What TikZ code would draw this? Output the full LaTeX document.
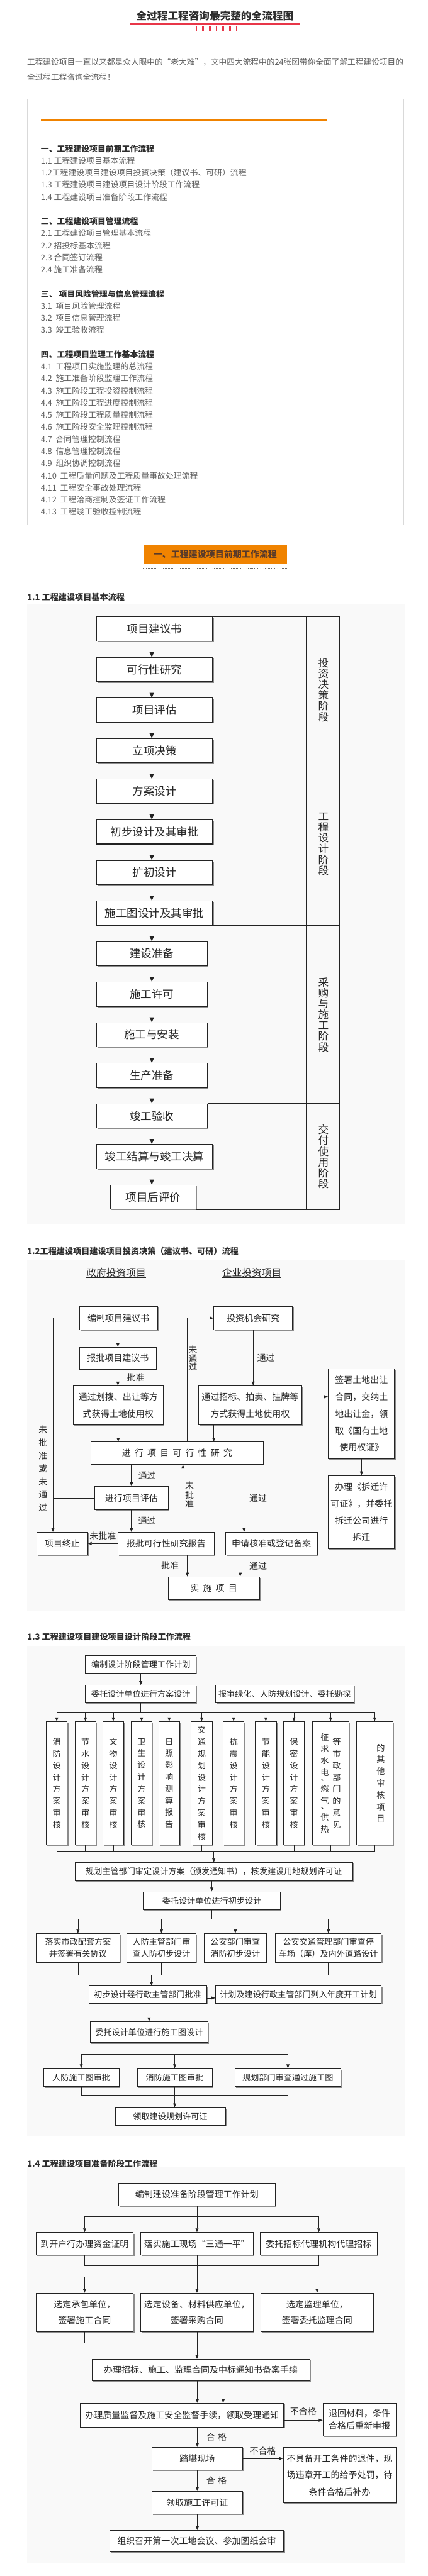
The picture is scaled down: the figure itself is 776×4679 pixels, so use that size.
\documentclass[tikz,border=0pt]{standalone}
\usepackage{fontspec}
\setmainfont{Noto Sans CJK SC}
\usepackage{xcolor}
\usepackage{tikz}
\usetikzlibrary{arrows.meta, positioning, shadows}
\definecolor{tred}{RGB}{232,54,72}
\definecolor{torange}{RGB}{240,131,0}
\definecolor{tgray}{RGB}{95,95,95}
\definecolor{tdark}{RGB}{45,45,45}
\definecolor{tbrown}{RGB}{88,58,42}
\definecolor{tbg}{RGB}{249,249,249}
\definecolor{tline}{RGB}{35,35,35}
\newcommand\fsz[2]{\fontsize{#1}{#2}\selectfont}
\newcommand\chgap{\kern7pt}

\begin{document}
\begin{tikzpicture}[
  x=1pt, y=-1pt,
  sz/.style 2 args={minimum width=#1pt,minimum height=#2pt},
  fbox/.style={draw=tline, line width=0.9pt, fill=white, inner sep=0pt,
               align=center, text=black!85,
               drop shadow={shadow xshift=2pt,shadow yshift=-2pt,fill=black!45,opacity=1}},
  bxl/.style={fbox, line width=1.2pt, font=\fsz{20}{24}},
  bxm/.style={fbox, font=\fsz{16}{30.5}},
  bxs/.style={fbox, font=\fsz{15}{21.5}},
  hd/.style={anchor=west, inner sep=0pt, text=tdark, font=\fsz{15}{18}\bfseries},
  stage/.style={inner sep=0pt, align=center, text=black!85, font=\fsz{19}{19.6}},
  lbl/.style={inner sep=0pt, align=center, text=black!85, font=\fsz{16}{16.5}},
  arrB/.style={-{Triangle[length=9pt,width=8pt]}, line width=1.2pt, tline},
  arr/.style={-{Triangle[length=7pt,width=5.5pt]}, line width=0.8pt, tline},
  ln/.style={line width=0.8pt, tline},
  lnB/.style={line width=1.2pt, tline},
  bg/.style={fill=tbg}
]
\useasboundingbox (0,0) rectangle (776,4679);

  % Title and intro
  \node[inner sep=0pt, text=tdark, font=\fsz{19}{22}\bfseries] (title) at (390,29)
    {全过程工程咨询最完整的全流程图};
  \draw[tred, line width=2pt] (237,43) -- (545,43);
  \draw[tred, line width=9pt, dash pattern=on 3pt off 9.2pt] (355,52.5) -- (431.5,52.5);
  \node[anchor=west, inner sep=0pt, text=tgray, font=\fsz{14.5}{18}] (intro1) at (49,113)
    {工程建设项目一直以来都是众人眼中的“老大难”，文中四大流程中的24张图带你全面了解工程建设项目的};
  \node[anchor=west, inner sep=0pt, text=tgray, font=\fsz{14.5}{18}] (intro2) at (49,140)
    {全过程工程咨询全流程！};

  % Contents box
  \draw[draw=black!15, fill=white] (49,179) rectangle (732,953);
  \fill[torange] (74,216) rectangle (594,221);
  \node[anchor=north west, inner sep=0pt, align=left, text=tgray, font=\fsz{14.7}{22}] (toc) at (74,262.5) {%
    {\bfseries\color{tdark}一、工程建设项目前期工作流程}\\
    1.1 工程建设项目基本流程\\
    1.2工程建设项目建设项目投资决策（建议书、可研）流程\\
    1.3 工程建设项目建设项目设计阶段工作流程\\
    1.4 工程建设项目准备阶段工作流程\\[22pt]
    {\bfseries\color{tdark}二、工程建设项目管理流程}\\
    2.1 工程建设项目管理基本流程\\
    2.2 招投标基本流程\\
    2.3 合同签订流程\\
    2.4 施工准备流程\\[22pt]
    {\bfseries\color{tdark}三、\ 项目风险管理与信息管理流程}\\
    3.1\ \ 项目风险管理流程\\
    3.2\ \ 项目信息管理流程\\
    3.3\ \ 竣工验收流程\\[22pt]
    {\bfseries\color{tdark}四、工程项目监理工作基本流程}\\
    4.1\ \ 工程项目实施监理的总流程\\
    4.2\ \ 施工准备阶段监理工作流程\\
    4.3\ \ 施工阶段工程投资控制流程\\
    4.4\ \ 施工阶段工程进度控制流程\\
    4.5\ \ 施工阶段工程质量控制流程\\
    4.6\ \ 施工阶段安全监理控制流程\\
    4.7\ \ 合同管理控制流程\\
    4.8\ \ 信息管理控制流程\\
    4.9\ \ 组织协调控制流程\\
    4.10\ \ 工程质量问题及工程质量事故处理流程\\
    4.11\ \ 工程安全事故处理流程\\
    4.12\ \ 工程洽商控制及签证工作流程\\
    4.13\ \ 工程竣工验收控制流程};

  % Section banner
  \node[fill=torange, sz={261}{36}, inner sep=0pt, text=tbrown, font=\fsz{16}{18}\bfseries]
    (sec1) at (390.5,1007) {一、工程建设项目前期工作流程};
  \draw[black!60, line width=0.8pt, dotted] ([yshift=-7pt]sec1.south west) -- ([yshift=-7pt]sec1.south east);

  % 1.1 basic flow
  \node[hd] (h11) at (49,1085) {1.1 工程建设项目基本流程};
  \fill[bg] (49,1097) rectangle (735,2223);
  \node[bxl, sz={211}{44}] (f1) at (280.5,1142.5) {项目建议书};
  \node[bxl, sz={211}{44}] (f2) at (280.5,1216.2) {可行性研究};
  \node[bxl, sz={211}{44}] (f3) at (280.5,1289.9) {项目评估};
  \node[bxl, sz={211}{44}] (f4) at (280.5,1363.6) {立项决策};
  \node[bxl, sz={211}{44}] (f5) at (280.5,1437.3) {方案设计};
  \node[bxl, sz={211}{44}] (f6) at (280.5,1511) {初步设计及其审批};
  \node[bxl, sz={211}{44}] (f7) at (280.5,1584.7) {扩初设计};
  \node[bxl, sz={211}{44}] (f8) at (280.5,1658.4) {施工图设计及其审批};
  \node[bxl, sz={201}{44}] (f9) at (275.5,1732.1) {建设准备};
  \node[bxl, sz={201}{44}] (f10) at (275.5,1805.8) {施工许可};
  \node[bxl, sz={201}{44}] (f11) at (275.5,1879.5) {施工与安装};
  \node[bxl, sz={201}{44}] (f12) at (275.5,1953.2) {生产准备};
  \node[bxl, sz={201}{44}] (f13) at (275.5,2026.9) {竣工验收};
  \node[bxl, sz={211}{44}] (f14) at (280.5,2100.6) {竣工结算与竣工决算};
  \node[bxl, sz={156}{44}] (f15) at (278,2174.3) {项目后评价};

  \draw[arrB] (f1.south -| f9) -- (f2.north -| f9);
  \draw[arrB] (f2.south -| f9) -- (f3.north -| f9);
  \draw[arrB] (f3.south -| f9) -- (f4.north -| f9);
  \draw[arrB] (f4.south -| f9) -- (f5.north -| f9);
  \draw[arrB] (f5.south -| f9) -- (f6.north -| f9);
  \draw[arrB] (f6.south -| f9) -- (f7.north -| f9);
  \draw[arrB] (f7.south -| f9) -- (f8.north -| f9);
  \draw[arrB] (f8.south -| f9) -- (f9.north);
  \draw[arrB] (f9.south) -- (f10.north);
  \draw[arrB] (f10.south) -- (f11.north);
  \draw[arrB] (f11.south) -- (f12.north);
  \draw[arrB] (f12.south) -- (f13.north);
  \draw[arrB] (f13.south) -- (f14.north -| f9);
  \draw[arrB] (f14.south -| f9) -- (f15.north -| f9);

  % stage column
  \coordinate (ca) at (556,0);
  \coordinate (cb) at (616,0);
  \draw[lnB] (f1.north east) -- (f1.north east -| cb) -- (f15.south east -| cb) -- (f15.south east);
  \draw[lnB] (f1.north east -| ca) -- (f15.south east -| ca);
  \draw[lnB] (f4.south east) -- (f4.south east -| cb);
  \draw[lnB] (f8.south east) -- (f8.south east -| cb);
  \draw[lnB] (f13.north east) -- (f13.north east -| cb);
  \node[stage] (st1) at (587,1253) {投\\资\\决\\策\\阶\\段};
  \node[stage] (st2) at (587,1533) {工\\程\\设\\计\\阶\\段};
  \node[stage] (st3) at (587,1843) {采\\购\\与\\施\\工\\阶\\段};
  \node[stage] (st4) at (587,2101) {交\\付\\使\\用\\阶\\段};

  % 1.2 investment decision
  \node[hd] (h12) at (49,2273) {1.2工程建设项目建设项目投资决策（建议书、可研）流程};
  \fill[bg] (49,2288) rectangle (735,2927);
  \node[lbl, font=\fsz{18}{20}] (gov) at (211,2312) {\underline{政府投资项目}};
  \node[lbl, font=\fsz{18}{20}] (ent) at (457,2312) {\underline{企业投资项目}};
  \node[bxm, sz={142}{42}] (v1) at (215,2394) {编制项目建议书};
  \node[bxm, sz={140}{40}] (v2) at (214,2467) {报批项目建议书};
  \node[bxm, sz={163}{71}] (v3) at (214.5,2552.5) {通过划拨、出让等方\\式获得土地使用权};
  \node[bxm, sz={143}{42}] (c1) at (459.5,2394) {投资机会研究};
  \node[bxm, sz={188}{71}] (c2) at (454,2552.5) {通过招标、拍卖、挂牌等\\方式获得土地使用权};
  \node[bxm, sz={120}{164}] (c3) at (656,2568) {签署土地出让\\合同，交纳土\\地出让金，领\\取《国有土地\\使用权证》};
  \node[bxm, sz={313}{41}] (fs) at (321.5,2639.5)
    {进\chgap 行\chgap 项\chgap 目\chgap 可\chgap 行\chgap 性\chgap 研\chgap 究};
  \node[bxm, sz={133}{42}] (ev) at (238.5,2721) {进行项目评估};
  \node[bxm, sz={120}{133}] (c4) at (656,2746.5) {办理《拆迁许\\可证》，并委托\\拆迁公司进行\\拆迁};
  \node[bxm, sz={92}{41}] (stop) at (113,2803.5) {项目终止};
  \node[bxm, sz={175}{41}] (rp) at (301.5,2803.5) {报批可行性研究报告};
  \node[bxm, sz={167}{41}] (reg) at (492.5,2803.5) {申请核准或登记备案};
  \node[bxm, sz={166}{41}] (run) at (388,2884.5) {实\chgap 施\chgap 项\chgap 目};

  \coordinate (lx) at (96,0);
  \draw[arr] (v1.south -| v2.north) -- (v2.north);
  \draw[arr] (v2.south) -- (v3.north -| v2.south) node[lbl, midway, right=16pt] (l1) {批准};
  \draw[arr] (v3.south) -- (v3.south |- fs.north);
  \draw[arr] (c1.south) -- (c1.south |- c2.north) node[lbl, midway, right=7pt] (l2) {通过};
  \draw[arr] ([yshift=15.5pt]c2.east) -- ([yshift=15.5pt]c2.east -| c3.west);
  \draw[arr] ([xshift=-66pt]c2.south) -- ([xshift=-66pt]c2.south |- fs.north);
  \draw[arr] ([xshift=18.5pt]fs.north) |- (c1.west);
  \node[lbl, font=\fsz{16}{15.5}] (l3) at (350,2467) {未\\通\\过};
  \draw[arr] (v1.west) -| ([xshift=-17pt]stop.north);
  \draw[ln] (fs.west) -- (fs.west -| lx);
  \draw[ln] (ev.west) -- (ev.west -| lx);
  \node[lbl, font=\fsz{16}{23.5}] (l4) at (78,2667.5) {未\\批\\准\\或\\未\\通\\过};
  \draw[arr] (fs.south -| ev.north) -- (ev.north) node[lbl, midway, right=12pt] (l5) {通过};
  \draw[arr] (ev.south) -- (ev.south |- rp.north) node[lbl, midway, right=12pt] (l6) {通过};
  \draw[arr] (rp.west) -- (stop.east) node[lbl, midway, above=6pt] (l7) {未批准};
  \draw[arr] ([xshift=30.5pt]rp.north) -- ([xshift=30.5pt]rp.north |- fs.south);
  \node[lbl, font=\fsz{16}{17}] (l8) at (344,2715) {未\\批\\准};
  \draw[arr] ([xshift=-49.5pt]reg.north |- fs.south) -- ([xshift=-49.5pt]reg.north)
    node[lbl, midway, right=9pt] (l9) {通过};
  \draw[arr] (c3.south) -- (c3.south |- c4.north);
  \draw[arr] ([xshift=-48pt]run.north |- rp.south) -- ([xshift=-48pt]run.north)
    node[lbl, midway, left=15pt] (l10) {批准};
  \draw[arr] ([xshift=48pt]run.north |- reg.south) -- ([xshift=48pt]run.north)
    node[lbl, midway, right=16pt] (l11) {通过};

  % 1.3 design stage
  \node[hd] (h13) at (49,2973) {1.3 工程建设项目建设项目设计阶段工作流程};
  \fill[bg] (49,2990) rectangle (735,3880);
  \node[bxs, sz={201}{32}] (d1) at (255.5,3023) {编制设计阶段管理工作计划};
  \node[bxs, sz={201}{32}] (d2) at (255.5,3077) {委托设计单位进行方案设计};
  \node[bxs, sz={251}{32}] (d3) at (516.5,3077) {报审绿化、人防规划设计、委托勘探};
  \node[bxs, sz={38}{224}] (r1) at (103,3239) {消\\防\\设\\计\\方\\案\\审\\核};
  \node[bxs, sz={38}{224}] (r2) at (155,3239) {节\\水\\设\\计\\方\\案\\审\\核};
  \node[bxs, sz={38}{224}] (r3) at (205.5,3239) {文\\物\\设\\计\\方\\案\\审\\核};
  \node[bxs, sz={38}{224}] (r4) at (257,3239) {卫\\生\\设\\计\\方\\案\\审\\核};
  \node[bxs, sz={38}{224}] (r5) at (307,3239) {日\\照\\影\\响\\测\\算\\报\\告};
  \node[bxs, sz={38}{224}] (r6) at (366,3239) {交\\通\\规\\划\\设\\计\\方\\案\\审\\核};
  \node[bxs, sz={38}{224}] (r7) at (424,3239) {抗\\震\\设\\计\\方\\案\\审\\核};
  \node[bxs, sz={38}{224}] (r8) at (482.5,3239) {节\\能\\设\\计\\方\\案\\审\\核};
  \node[bxs, sz={38}{224}] (r9) at (533.5,3239) {保\\密\\设\\计\\方\\案\\审\\核};
  \node[bxs, sz={66}{224}] (r10) at (600,3239) {};
  \node[lbl, font=\fsz{15}{21.5}] (r10a) at (589.5,3239)
    {征\\求\\水\\电\\[-13pt]、\\燃\\气\\[-13pt]、\\供\\热};
  \node[lbl, font=\fsz{15}{21.5}] (r10b) at (611,3239) {等\\市\\政\\部\\门\\的\\意\\见};
  \node[bxs, sz={66}{224}] (r11) at (680,3239) {};
  \node[lbl, font=\fsz{15}{21.5}] (r11a) at (691,3239) {的\\其\\他\\审\\核\\项\\目};
  \node[bxs, sz={504}{33}] (pl) at (388,3399.5)
    {规划主管部门审定设计方案（颁发通知书），核发建设用地规划许可证};
  \node[bxs, sz={249}{33}] (ds) at (384.5,3452.5) {委托设计单位进行初步设计};
  \node[bxs, sz={151}{52}] (m1) at (141.5,3538) {落实市政配套方案\\并签署有关协议};
  \node[bxs, sz={126}{52}] (m2) at (293,3538) {人防主管部门审\\查人防初步设计};
  \node[bxs, sz={114}{52}] (m3) at (427,3538) {公安部门审查\\消防初步设计};
  \node[bxs, sz={192}{52}] (m4) at (596,3538) {公安交通管理部门审查停\\车场（库）及内外道路设计};
  \node[bxs, sz={214}{32}] (ap) at (268,3623) {初步设计经行政主管部门批准};
  \node[bxs, sz={301}{32}] (yr) at (541.5,3623) {计划及建设行政主管部门列入年度开工计划};
  \node[bxs, sz={213}{38}] (cd) at (270.5,3691) {委托设计单位进行施工图设计};
  \node[bxs, sz={137}{33}] (w1) at (147.5,3773.5) {人防施工图审批};
  \node[bxs, sz={136}{33}] (w2) at (317,3773.5) {消防施工图审批};
  \node[bxs, sz={193}{33}] (w3) at (522.5,3773.5) {规划部门审查通过施工图};
  \node[bxs, sz={200}{32}] (lic) at (309,3844) {领取建设规划许可证};

  \draw[arr] (d1.south) -- (d2.north);
  \draw[ln] (d2.east) -- (d3.west);
  \draw[ln] (d2.south) -- ++(0,16) coordinate (bt);
  \draw[ln] (r1.north |- bt) -- (r11.north |- bt);
  \draw[arr] (r1.north |- bt) -- (r1.north);
  \draw[arr] (r2.north |- bt) -- (r2.north);
  \draw[arr] (r3.north |- bt) -- (r3.north);
  \draw[arr] (r4.north |- bt) -- (r4.north);
  \draw[arr] (r5.north |- bt) -- (r5.north);
  \draw[arr] (r6.north |- bt) -- (r6.north);
  \draw[arr] (r7.north |- bt) -- (r7.north);
  \draw[arr] (r8.north |- bt) -- (r8.north);
  \draw[arr] (r9.north |- bt) -- (r9.north);
  \draw[arr] (r10.north |- bt) -- (r10.north);
  \draw[arr] (r11.north |- bt) -- (r11.north);
  \coordinate (bb) at (388,3362);
  \draw[ln] (r1.south) -- (r1.south |- bb) -- (r11.south |- bb) -- (r11.south);
  \draw[ln] (r2.south) -- (r2.south |- bb);
  \draw[ln] (r3.south) -- (r3.south |- bb);
  \draw[ln] (r4.south) -- (r4.south |- bb);
  \draw[ln] (r5.south) -- (r5.south |- bb);
  \draw[ln] (r6.south) -- (r6.south |- bb);
  \draw[ln] (r7.south) -- (r7.south |- bb);
  \draw[ln] (r8.south) -- (r8.south |- bb);
  \draw[ln] (r9.south) -- (r9.south |- bb);
  \draw[ln] (r10.south) -- (r10.south |- bb);
  \draw[arr] (bb) -- (bb |- pl.north);
  \draw[arr] (pl.south -| ds.north) -- (ds.north);
  \draw[ln] (ds.south) -- ++(0,16) coordinate (bm);
  \draw[ln] (m1.north |- bm) -- (m4.north |- bm);
  \draw[arr] (m1.north |- bm) -- (m1.north);
  \draw[arr] (m2.north |- bm) -- (m2.north);
  \draw[arr] (m3.north |- bm) -- (m3.north);
  \draw[arr] (m4.north |- bm) -- (m4.north);
  \coordinate (bj) at (275,3587);
  \draw[ln] (m1.south) -- (m1.south |- bj) -- (m4.south |- bj) -- (m4.south);
  \draw[ln] (m2.south) -- (m2.south |- bj);
  \draw[ln] (m3.south) -- (m3.south |- bj);
  \draw[arr] (bj) -- (bj |- ap.north);
  \draw[arr] ([yshift=-6pt]ap.east) -- ([yshift=-6pt]ap.east -| yr.west);
  \draw[arr] (cd.north |- ap.south) -- (cd.north);
  \draw[ln] (cd.south) -- ++(0,21) coordinate (bw);
  \draw[ln] (w1.north |- bw) -- (w3.north |- bw);
  \draw[arr] (w1.north |- bw) -- (w1.north);
  \draw[arr] (w2.north |- bw) -- (w2.north);
  \draw[arr] (w3.north |- bw) -- (w3.north);
  \coordinate (bx) at (317,3806);
  \draw[ln] (w1.south) -- (w1.south |- bx) -- (w3.south |- bx) -- (w3.south);
  \draw[arr] (w2.south) -- (w2.south |- lic.north);

  % 1.4 preparation stage
  \node[hd] (h14) at (49,3930) {1.4 工程建设项目准备阶段工作流程};
  \fill[bg] (49,3937) rectangle (735,4655);
  \node[bxm, sz={285}{42}] (p0) at (357.5,3986) {编制建设准备阶段管理工作计划};
  \node[bxm, sz={177}{41}] (p1) at (153.5,4075.5) {到开户行办理资金证明};
  \node[bxm, sz={205}{41}] (p2) at (357.5,4075.5) {落实施工现场“三通一平”};
  \node[bxm, sz={213}{41}] (p3) at (578.5,4075.5) {委托招标代理机构代理招标};
  \node[bxm, sz={177}{70}, font=\fsz{16}{29}] (k1) at (153.5,4200) {选定承包单位，\\签署施工合同};
  \node[bxm, sz={205}{70}, font=\fsz{16}{29}] (k2) at (357.5,4200) {选定设备、材料供应单位，\\签署采购合同};
  \node[bxm, sz={205}{70}, font=\fsz{16}{29}] (k3) at (575.5,4200) {选定监理单位，\\签署委托监理合同};
  \node[bxm, sz={395}{39}] (rec) at (364.5,4304.5) {办理招标、施工、监理合同及中标通知书备案手续};
  \node[bxm, sz={369}{44}] (qs) at (330.5,4387) {办理质量监督及施工安全监督手续，领取受理通知};
  \node[bxm, sz={133}{60}, font=\fsz{16}{23}] (ret) at (652.5,4395) {退回材料，条件\\合格后重新申报};
  \node[bxm, sz={164}{41}] (site) at (358,4465.5) {踏堪现场};
  \node[bxm, sz={205}{101}] (bad) at (616.5,4495.5)
    {不具备开工条件的退件，现\\场违章开工的给予处罚，待\\条件合格后补办};
  \node[bxm, sz={164}{41}] (perm) at (358,4545.5) {领取施工许可证};
  \node[bxm, sz={316}{39}] (meet) at (357,4615.5) {组织召开第一次工地会议、参加图纸会审};

  \draw[ln] (p0.south) -- ++(0,18) coordinate (bp);
  \draw[ln] (p1.north |- bp) -- (p3.north |- bp);
  \draw[arr] (p1.north |- bp) -- (p1.north);
  \draw[arr] (p2.north |- bp) -- (p2.north);
  \draw[arr] (p3.north |- bp) -- (p3.north);
  \coordinate (bq) at (357.5,4115);
  \coordinate (br) at (357.5,4136);
  \draw[ln] (p1.south) -- (p1.south |- bq) -- (p3.south |- bq) -- (p3.south);
  \draw[arr] (p2.south) -- (k2.north);
  \draw[ln] (k1.north |- br) -- (k3.north |- br);
  \draw[arr] (k1.north |- br) -- (k1.north);
  \draw[arr] (k3.north |- br) -- (k3.north);
  \coordinate (bk) at (357.5,4255);
  \draw[ln] (k1.south) -- (k1.south |- bk) -- (k3.south |- bk) -- (k3.south);
  \draw[arr] (k2.south) -- (k2.south |- rec.north);
  \draw[arr] (site.north |- rec.south) -- (site.north |- qs.north);
  \draw[arr] ([yshift=-9pt]qs.east) -- ([yshift=-9pt]qs.east -| ret.west)
    node[lbl, midway, above=8pt] (n1) {不合格};
  \draw[arr] ([xshift=-10.5pt]ret.north) -- ++(0,-20) -| ([xshift=74.5pt]qs.north);
  \draw[arr] (site.north |- qs.south) -- (site.north)
    node[lbl, midway, right=16pt] (n2) {合\hspace{5pt}格};
  \draw[arr] (site.east) -- (site.east -| bad.west) node[lbl, midway, above=6pt] (n3) {不合格};
  \draw[arr] (site.south) -- (perm.north) node[lbl, midway, right=16pt] (n4) {合\hspace{5pt}格};
  \draw[arr] (perm.south) -- (perm.south |- meet.north);
\end{tikzpicture}
\end{document}
